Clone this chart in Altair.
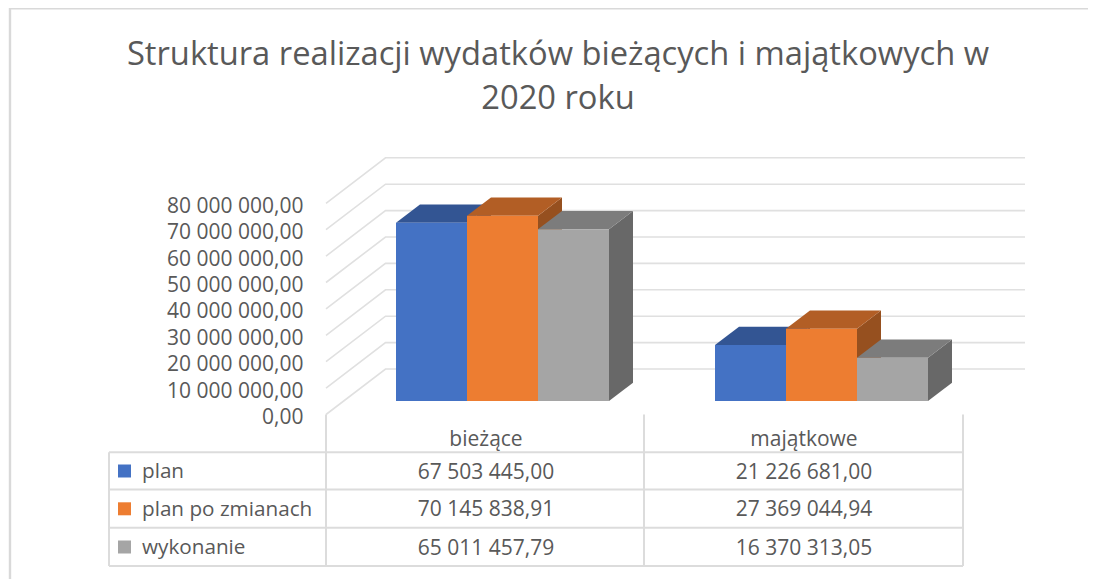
import altair as alt
import pandas as pd

categories = ["bieżące", "majątkowe"]
series_names = ["plan", "plan po zmianach", "wykonanie"]
plan = [67503445.00, 21226681.00]
plan_po_zmianach = [70145838.91, 27369044.94]
wykonanie = [65011457.79, 16370313.05]
series_values = [plan, plan_po_zmianach, wykonanie]
axis_ticks = [0, 10000000, 20000000, 30000000, 40000000, 50000000, 60000000, 70000000, 80000000]
front_colors = ["#4472C4", "#ED7D31", "#A5A5A5"]
top_colors = ["#335593", "#B25E25", "#7C7C7C"]
side_colors = ["#2B4A7C", "#96501F", "#686868"]
title_lines = ["Struktura realizacji wydatków bieżących i majątkowych w", "2020 roku"]

W, H = 1080, 571
FONT = "Open Sans"
TXT = "#595959"
LINE = "#DCDCDC"
X0, BAR = 326.0, 71.0         # page x of the front plane, bar width
Y0, PXV = 414.5, 26.4 / 10e6  # page y of value 0, px per unit


def ux(px):
    return (px - X0) / BAR


def uy(py):
    return (Y0 - py) / PXV


x_scale = alt.Scale(domain=[ux(8), ux(8 + W)], nice=False, zero=False)
y_scale = alt.Scale(domain=[uy(8 + H), uy(8)], nice=False, zero=False)
y_axis = alt.Axis(
    values=axis_ticks,
    orient="left",
    offset=-295,
    labelPadding=0,
    labelOffset=3,
    ticks=False,
    domain=False,
    grid=False,
    title=None,
    labelFont=FONT,
    labelFontSize=21,
    labelColor=TXT,
    labelExpr="replace(replace(format(datum.value, ',.2f'), regexp(',', 'g'), ' '), '.', ',')",
)
X = lambda f: alt.X(f, type="quantitative", scale=x_scale, axis=None)
Y = lambda f: alt.Y(f, type="quantitative", scale=y_scale, axis=y_axis)

WALL_DX, WALL_DY = ux(385.5) - ux(326), 45.5 / PXV
BAR_DX, BAR_DY = 24 / BAR, 18.3 / PXV
FLOOR = 13.5 / PXV
group_left = [ux(396), ux(715)]

# walls
wall = []
for v in axis_ticks:
    wall += [
        {"x": ux(326), "y": v, "v": v},
        {"x": ux(326) + WALL_DX, "y": v + WALL_DY, "v": v},
        {"x": ux(1025), "y": v + WALL_DY, "v": v},
    ]
wall_layer = alt.Chart(pd.DataFrame(wall)).mark_line(color="#E0E0E0", strokeWidth=1.6).encode(
    x=X("x"), y=Y("y"), detail="v:N",
)

# bars
bar_layers = []
for s, name in enumerate(series_names):
    fronts, tops, sides = [], [], []
    for g, cat in enumerate(categories):
        v = series_values[s][g]
        x0 = group_left[g] + s
        x1 = x0 + 1
        base, top = FLOOR, FLOOR + v
        fronts.append({"x": x0, "x2": x1, "y": top, "y2": base, "series": name, "category": cat})
        tops += [
            {"x": x0, "y": top, "y2": top, "g": cat},
            {"x": x0 + BAR_DX, "y": top, "y2": top + BAR_DY, "g": cat},
            {"x": x1, "y": top, "y2": top + BAR_DY, "g": cat},
            {"x": x1 + BAR_DX, "y": top + BAR_DY, "y2": top + BAR_DY, "g": cat},
        ]
        sides += [
            {"x": x1, "y": base, "y2": top, "g": cat},
            {"x": x1 + BAR_DX, "y": base + BAR_DY, "y2": top + BAR_DY, "g": cat},
        ]
    bar_layers.append(alt.Chart(pd.DataFrame(sides)).mark_area(color=side_colors[s], opacity=1).encode(
        x=X("x"), y=Y("y"), y2="y2:Q", detail="g:N"))
    bar_layers.append(alt.Chart(pd.DataFrame(tops)).mark_area(color=top_colors[s], opacity=1).encode(
        x=X("x"), y=Y("y"), y2="y2:Q", detail="g:N"))
    bar_layers.append(alt.Chart(pd.DataFrame(fronts)).mark_bar(color=front_colors[s], opacity=1).encode(
        x=X("x"), x2="x2:Q", y=Y("y"), y2="y2:Q"))

# data table
row_lines = [452.3, 489.5, 527.7, 566.0]
col_lines = [326.0, 644.0, 963.0]
rules = [{"x": ux(109), "x2": ux(963), "y": uy(p), "y2": uy(p)} for p in row_lines]
rules += [{"x": ux(p), "x2": ux(p), "y": uy(414.5), "y2": uy(566)} for p in col_lines]
rules += [{"x": ux(109), "x2": ux(109), "y": uy(452.3), "y2": uy(566)}]
table_lines = alt.Chart(pd.DataFrame(rules)).mark_rule(color=LINE, strokeWidth=2).encode(
    x=X("x"), x2="x2:Q", y=Y("y"), y2="y2:Q")

border = alt.Chart(pd.DataFrame([
    {"x": ux(10), "x2": ux(10), "y": uy(8), "y2": uy(579)},
    {"x": ux(10), "x2": ux(1088), "y": uy(8.2), "y2": uy(8.2)},
])).mark_rule(color="#D9D9D9", strokeWidth=2.4).encode(x=X("x"), x2="x2:Q", y=Y("y"), y2="y2:Q")


def fmt(v):
    return f"{v:,.2f}".replace(",", " ").replace(".", ",")


row_mid = [471.0, 508.8, 547.0]
col_mid = [486.0, 804.0]
cells = [{"x": ux(col_mid[g]), "y": uy(440), "t": c} for g, c in enumerate(categories)]
for s in range(3):
    for g in range(2):
        cells.append({"x": ux(col_mid[g]), "y": uy(row_mid[s] + 1.5), "t": fmt(series_values[s][g])})
cell_text = alt.Chart(pd.DataFrame(cells)).mark_text(
    font=FONT, fontSize=21, color=TXT, align="center", baseline="middle"
).encode(x=X("x"), y=Y("y"), text="t:N")

names = [{"x": ux(142), "y": uy(row_mid[s] + 1), "t": n} for s, n in enumerate(series_names)]
name_text = alt.Chart(pd.DataFrame(names)).mark_text(
    font=FONT, fontSize=20.7, color=TXT, align="left", baseline="middle"
).encode(x=X("x"), y=Y("y"), text="t:N")

swatches = pd.DataFrame([
    {"x": ux(118), "x2": ux(131), "y": uy(row_mid[s] - 6.5), "y2": uy(row_mid[s] + 6.5), "series": n}
    for s, n in enumerate(series_names)
])
swatch_layer = alt.Chart(swatches).mark_rect(opacity=1).encode(
    x=X("x"), x2="x2:Q", y=Y("y"), y2="y2:Q",
    color=alt.Color("series:N", scale=alt.Scale(domain=series_names, range=front_colors), legend=None),
)

chart = alt.layer(
    wall_layer, *bar_layers, table_lines, border, cell_text, name_text, swatch_layer
).properties(
    width=W,
    height=H,
    padding=0,
    autosize=alt.AutoSizeParams(type="none"),
    background="white",
    title=alt.TitleParams(
        text=title_lines,
        font=FONT,
        fontSize=32.7,
        fontWeight="normal",
        color=TXT,
        lineHeight=44,
        anchor="middle",
        frame="group",
        dx=10,
        offset=-109,
    ),
).configure_view(stroke=None)

chart.save("out.html", embed_options={"renderer": "svg", "actions": False})
